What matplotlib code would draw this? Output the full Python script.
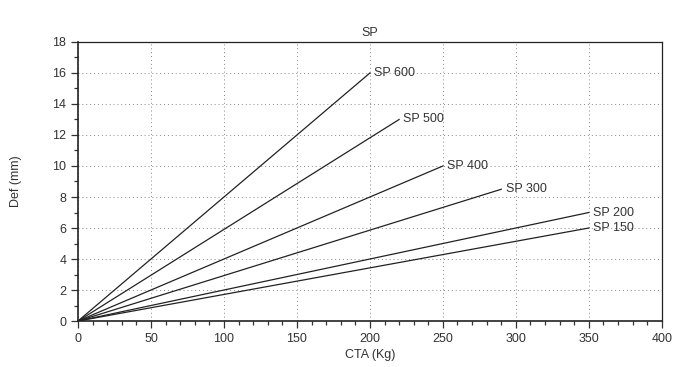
import numpy as np
import matplotlib
matplotlib.use('Agg')
from matplotlib import pyplot as plt
from matplotlib.ticker import MultipleLocator

plt.rcParams['font.family'] = ['Liberation Sans', 'DejaVu Sans']

# series: name, end load (Kg), end deflection (mm)
names = ['SP 600', 'SP 500', 'SP 400', 'SP 300', 'SP 200', 'SP 150']
end_cta = [200, 220, 250, 290, 350, 350]
end_def = [16, 13, 10, 8.5, 7, 6]

txt = '#333333'
fs = 9

fig = plt.figure(figsize=(6.76, 3.67), dpi=100)
ax = fig.add_axes([0.1154, 0.1253, 0.8636, 0.7603])

for n, xe, ye in zip(names, end_cta, end_def):
    ax.plot([0, xe], [0, ye], color='#222222', lw=0.9)
    ax.text(xe + 3, ye, n, fontsize=fs, color=txt, va='center', ha='left')

ax.set_xlim(0, 400)
ax.set_ylim(0, 18)
ax.xaxis.set_major_locator(MultipleLocator(50))
ax.xaxis.set_minor_locator(MultipleLocator(10))
ax.yaxis.set_major_locator(MultipleLocator(2))
ax.yaxis.set_minor_locator(MultipleLocator(1))
ax.grid(which='major', linestyle=(0, (1, 3)), color='#888888', lw=0.7)
ax.tick_params(which='both', direction='out', colors=txt, labelsize=fs, width=0.9)
ax.tick_params(which='major', length=5)
ax.tick_params(which='minor', length=3)
for s in ax.spines.values():
    s.set_color('#222222')
    s.set_linewidth(0.9)
ax.spines['left'].set_linewidth(1.2)
ax.spines['bottom'].set_linewidth(1.2)

ax.set_title('SP', fontsize=fs, color=txt, pad=4)
ax.set_xlabel('CTA (Kg)', fontsize=fs, color=txt, labelpad=3)
ax.set_ylabel('Def (mm)', fontsize=fs, color=txt, labelpad=22)

fig.savefig('out.png', dpi=100)
